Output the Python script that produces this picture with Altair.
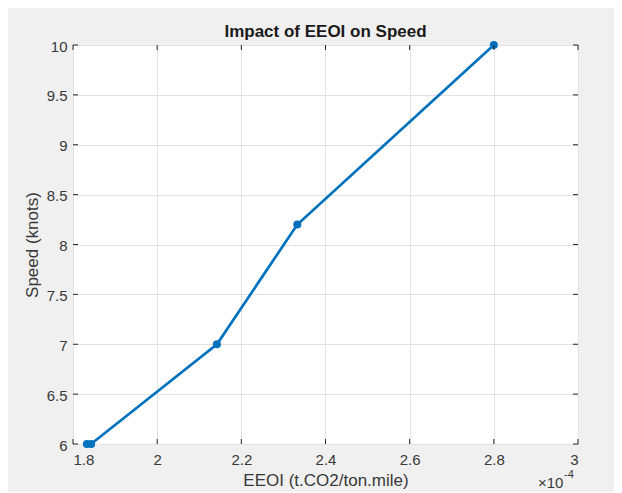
import altair as alt
import pandas as pd

# Data (EEOI in units of 1e-4)
eeoi = [1.833, 1.843, 2.142, 2.333, 2.8]
speed = [6.0, 6.0, 7.0, 8.2, 10.0]
x_ticks = [1.8, 2.0, 2.2, 2.4, 2.6, 2.8, 3.0]
y_ticks = [6, 6.5, 7, 7.5, 8, 8.5, 9, 9.5, 10]

W, H = 505, 399
FONT = "Liberation Sans"
AX = "#262626"
TXT = "#383838"

df = pd.DataFrame({"eeoi": eeoi, "speed": speed})
xt = pd.DataFrame({"v": x_ticks})
yt = pd.DataFrame({"v": y_ticks})

xs = alt.Scale(domain=[1.8, 3.0], nice=False, zero=False)
ys = alt.Scale(domain=[6, 10], nice=False, zero=False)

common = dict(labelFont=FONT, labelFontSize=15, labelColor=TXT,
              titleFont=FONT, titleFontSize=17, titleFontWeight="normal", titleColor=TXT,
              domain=False, ticks=False, grid=True, gridColor="#e2e2e2", gridWidth=1)

xa = alt.Axis(values=x_ticks, format="~g", title="EEOI (t.CO2/ton.mile)",
              labelPadding=8, titlePadding=5, **common)
ya = alt.Axis(values=y_ticks, format="~g", title="Speed (knots)",
              labelPadding=6, titlePadding=5, labelOffset=1, **common)

line = alt.Chart(df).mark_line(
    color="#0072BD", strokeWidth=2.7,
    point=alt.OverlayMarkDef(filled=True, size=65, color="#0072BD", opacity=1)
).encode(
    x=alt.X("eeoi:Q", scale=xs, axis=xa),
    y=alt.Y("speed:Q", scale=ys, axis=ya),
)

tick_len = 5
bx = alt.Chart(xt).mark_rule(color=AX, strokeWidth=1).encode(
    x=alt.X("v:Q", scale=xs, axis=xa), y=alt.value(H), y2=alt.value(H - tick_len))
tx = alt.Chart(xt).mark_rule(color=AX, strokeWidth=1).encode(
    x=alt.X("v:Q", scale=xs, axis=xa), y=alt.value(0), y2=alt.value(tick_len))
ly = alt.Chart(yt).mark_rule(color=AX, strokeWidth=1).encode(
    y=alt.Y("v:Q", scale=ys, axis=ya), x=alt.value(0), x2=alt.value(tick_len))
ry = alt.Chart(yt).mark_rule(color=AX, strokeWidth=1).encode(
    y=alt.Y("v:Q", scale=ys, axis=ya), x=alt.value(W), x2=alt.value(W - tick_len))

exp_base = alt.Chart(pd.DataFrame({"t": ["×10"]})).mark_text(
    font=FONT, fontSize=15, color=TXT, align="left", baseline="middle"
).encode(text="t:N", x=alt.value(465), y=alt.value(438))
exp_sup = alt.Chart(pd.DataFrame({"t": ["-4"]})).mark_text(
    font=FONT, fontSize=11, color=TXT, align="left", baseline="middle"
).encode(text="t:N", x=alt.value(491), y=alt.value(430))

chart = alt.layer(line, bx, tx, ly, ry, exp_base, exp_sup).properties(
    width=W, height=H,
    title=alt.TitleParams("Impact of EEOI on Speed", font=FONT, fontSize=17,
                          fontWeight="bold", color="#1a1a1a", offset=-2),
    autosize="none",
    padding={"left": 65, "top": 37, "right": 36, "bottom": 48},
    background="#f0f0f0",
).configure_view(stroke=AX, strokeWidth=1, fill="white")

chart.save("out.html", embed_options={"renderer": "svg", "actions": False})
